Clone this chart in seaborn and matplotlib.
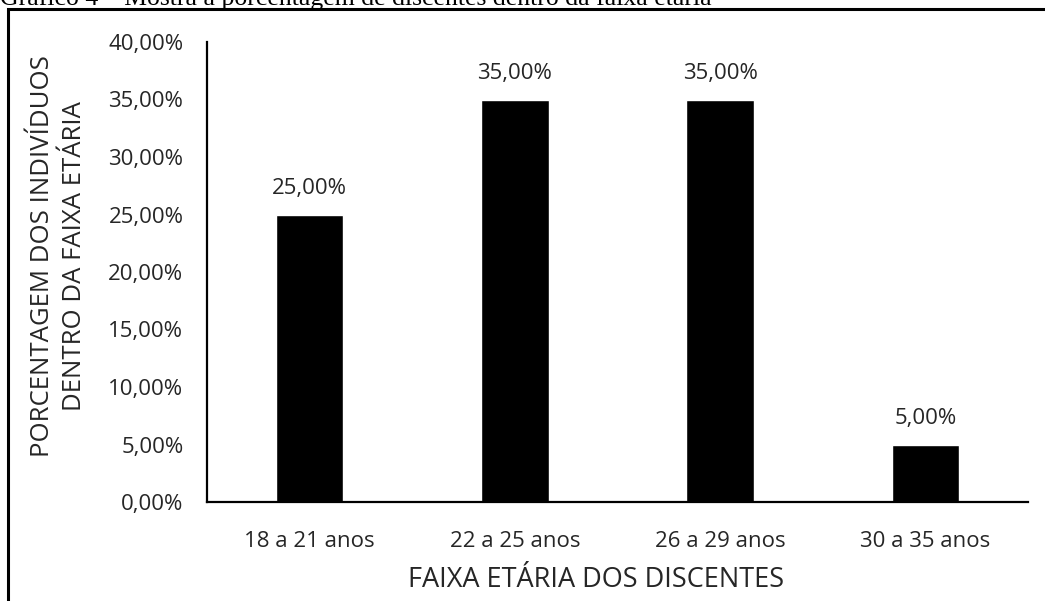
import numpy as np
import pandas as pd
import seaborn as sns
import matplotlib.pyplot as plt
from matplotlib.patches import Rectangle

faixas = ['18 a 21 anos', '22 a 25 anos', '26 a 29 anos', '30 a 35 anos']
percentuais = [25.0, 35.0, 35.0, 5.0]

sns.set_theme(style='white')
plt.rcParams['font.family'] = ['Open Sans', 'DejaVu Sans']

df = pd.DataFrame({'faixa': faixas, 'pct': percentuais})

fig = plt.figure(figsize=(10.45, 6.01), dpi=100)
ax = fig.add_axes([207 / 1045, 1 - 502 / 601, (1028 - 207) / 1045, (502 - 42) / 601])

sns.barplot(data=df, x='faixa', y='pct', color='black', width=0.33, ax=ax,
            saturation=1)

ax.set_ylim(0, 40)
ax.set_xlim(-0.5, 3.5)
ax.set_yticks(np.arange(0, 41, 5))
ax.set_yticklabels([f'{v:.2f}%'.replace('.', ',') for v in np.arange(0, 41, 5)])
ax.tick_params(axis='both', labelsize=16, colors='#262626', length=0)
ax.tick_params(axis='y', pad=17)
ax.tick_params(axis='x', pad=21)

for i, v in enumerate(percentuais):
    ax.annotate(f'{v:.2f}%'.replace('.', ','), (i, v), xytext=(0, 11),
                textcoords='offset points', ha='center', va='bottom',
                fontsize=16, color='#262626')

for s in ['top', 'right']:
    ax.spines[s].set_visible(False)
for s in ['left', 'bottom']:
    ax.spines[s].set_color('black')
    ax.spines[s].set_linewidth(1.6)

ax.set_xlabel('FAIXA ETÁRIA DOS DISCENTES', fontsize=19.5, color='#262626')
ax.xaxis.set_label_coords(0.474, -0.139)
ax.set_ylabel('PORCENTAGEM DOS INDIVÍDUOS\nDENTRO DA FAIXA ETÁRIA', fontsize=18.5,
              color='#262626', linespacing=1.4)
ax.yaxis.set_label_coords(-0.146, 0.535)

# moldura do gráfico
fig.patches.append(Rectangle((8 / 1045, -0.1), 1.2, 1 - 9 / 601 + 0.1,
                             transform=fig.transFigure, fill=False,
                             edgecolor='black', linewidth=2.2))

fig.text(0.0, 1 - 5.5 / 601, 'Gráfico 4 – Mostra a porcentagem de discentes dentro da faixa etária',
         family='Liberation Serif', fontsize=18.5, va='baseline', ha='left', color='black')

fig.savefig('out.png', dpi=100)
